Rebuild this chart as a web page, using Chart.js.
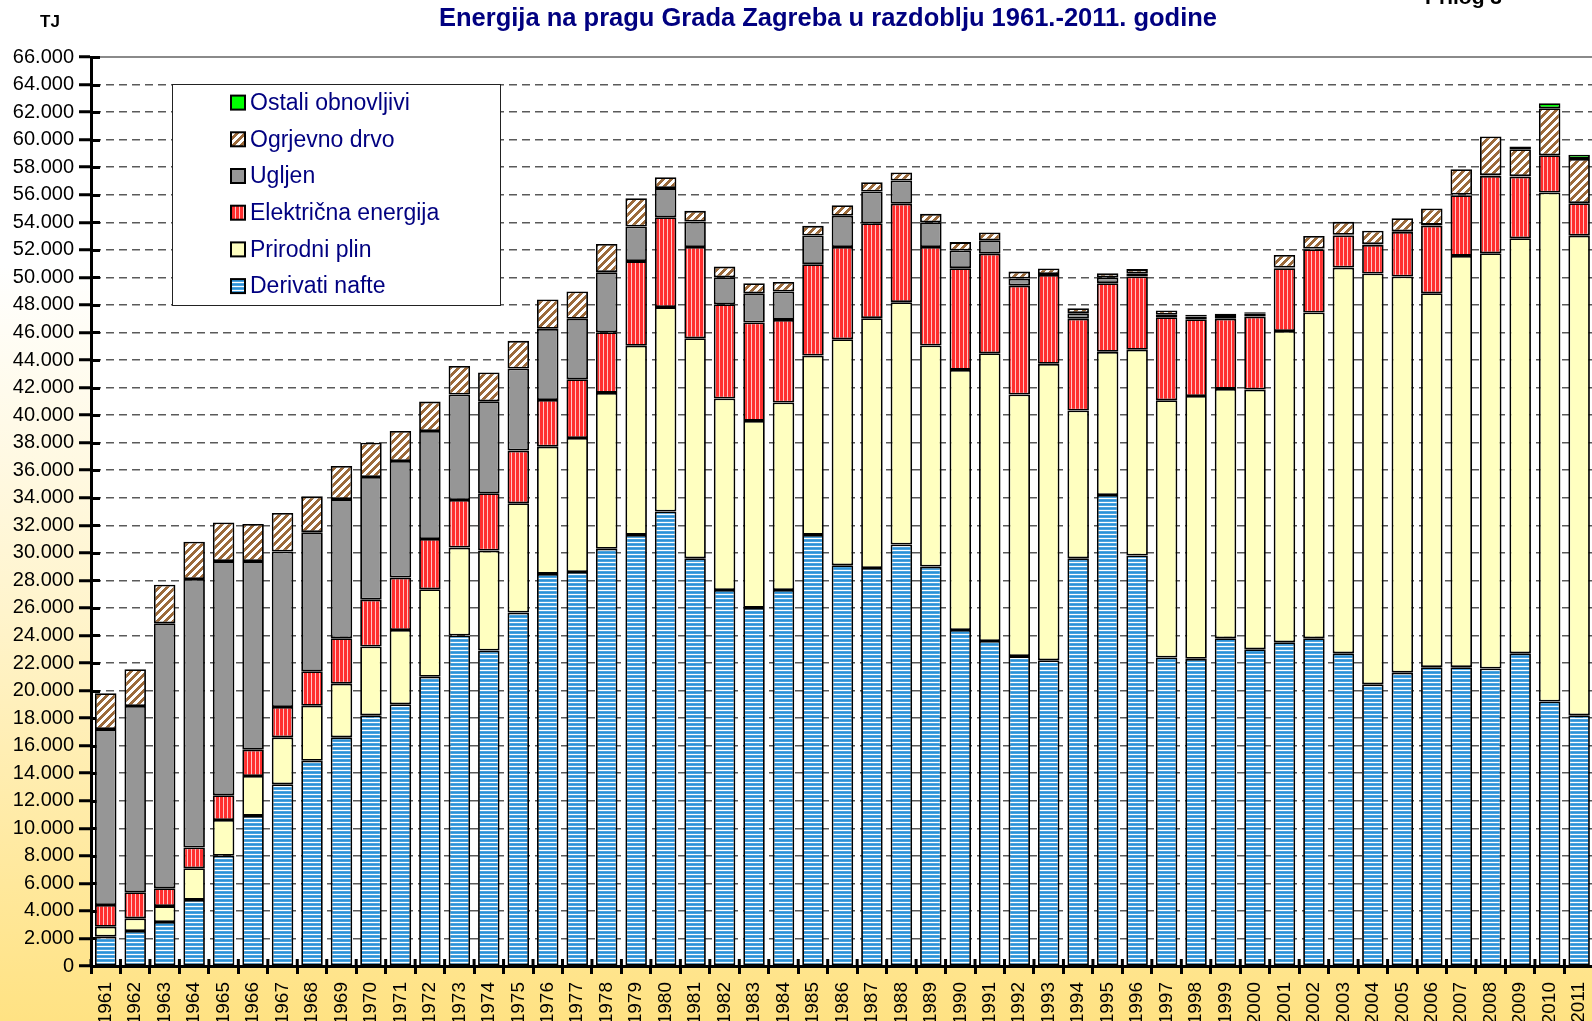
<!DOCTYPE html>
<html>
<head>
<meta charset="utf-8">
<script src="https://cdn.jsdelivr.net/npm/chart.js@4.4.1/dist/chart.umd.min.js"></script>
<style>
  html, body { margin: 0; padding: 0; overflow: hidden; width: 1592px; height: 1021px; }
  body { background: linear-gradient(to bottom, #ffffff 0%, #ffffff 26%, #fff4cc 60%, #ffe283 100%); }
  #wrap { position: absolute; left: 0; top: 0; width: 1610px; height: 1021px; }
</style>
</head>
<body>
<div id="wrap"><canvas id="c" width="1610" height="1021"></canvas></div>
<script>
const chartTitle = 'Energija na pragu Grada Zagreba u razdoblju 1961.-2011. godine';
const unitLabel = 'TJ';
const annexLabel = 'Prilog 3';

const years = ['1961','1962','1963','1964','1965','1966','1967','1968','1969','1970',
  '1971','1972','1973','1974','1975','1976','1977','1978','1979','1980',
  '1981','1982','1983','1984','1985','1986','1987','1988','1989','1990',
  '1991','1992','1993','1994','1995','1996','1997','1998','1999','2000',
  '2001','2002','2003','2004','2005','2006','2007','2008','2009','2010','2011'];

const seriesNames = ['Derivati nafte','Prirodni plin','Električna energija','Ugljen','Ogrjevno drvo','Ostali obnovljivi'];

const derivatiNafte = [2130,2540,3200,4800,8000,10900,13200,14900,16600,18200,
  19000,21000,24000,22900,25660,28470,28610,30300,31300,33000,
  29600,27300,26000,27300,31300,29100,28900,30600,29000,24400,
  23600,22500,22200,29600,34200,29800,22400,22300,23800,23000,
  23500,23800,22700,20450,21300,21700,21700,21600,22700,19200,18200];

const prirodniPlin = [720,920,1150,2300,2600,2900,3400,4000,3900,5000,
  5400,6360,6380,7260,7940,9240,9730,11310,13730,14840,
  15980,13900,13580,13610,13020,16410,18140,17600,16050,18880,
  20890,18990,21520,10730,10390,14940,18680,19090,18100,18850,
  22610,23650,28010,29830,28760,27150,29860,30150,30140,36960,34830];

const elektricnaEnergija = [1580,1890,1290,1500,1800,1900,2200,2500,3300,3400,
  3800,3640,3460,4170,3820,3390,4260,4410,6150,6530,
  6630,6850,7140,6000,6640,6700,6890,7140,7160,7390,
  7220,7910,6460,6660,4990,5320,6020,5570,5090,5300,
  4560,4600,2330,2080,3240,4910,4410,5620,4460,2710,2360];

const ugljen = [12770,13530,19250,19500,17000,13700,11300,10100,10100,8900,
  8470,7850,7650,6670,5960,5160,4390,4360,2510,2110,
  1840,1960,2130,2060,2080,2260,2300,1690,1790,1280,
  990,510,60,410,420,240,180,200,200,200,
  50,50,50,50,50,50,50,50,50,null,null];

const ogrjevnoDrvo = [2600,2670,2800,2700,2800,2700,2800,2600,2400,2500,
  2180,2130,2080,2090,2010,2130,1980,2050,2060,790,
  780,770,730,700,700,770,680,580,610,610,
  560,510,410,360,300,300,310,120,160,120,
  910,910,940,970,950,1190,1830,2810,1950,3410,3210];

const ostaliObnovljivi = [null,null,null,null,null,null,null,null,null,null,
  null,null,null,null,null,null,null,null,null,null,
  null,null,null,null,null,null,null,null,null,null,
  null,null,null,null,null,null,null,null,null,null,
  null,null,null,null,null,null,null,null,200,370,300];

const yMax = 66000, yStep = 2000;

// ---------- patterns ----------
function makePattern(w, h, painter) {
  const c = document.createElement('canvas');
  c.width = w; c.height = h;
  const g = c.getContext('2d');
  painter(g, w, h);
  return document.getElementById('c').getContext('2d').createPattern(c, 'repeat');
}
const patNafta = makePattern(4, 4, (g) => {
  const rows = ['#2b90d6', '#4aa3df', '#ffffff', '#4aa3df'];
  rows.forEach((col, i) => { g.fillStyle = col; g.fillRect(0, i, 4, 1); });
});
const patStruja = makePattern(4, 4, (g) => {
  const cols = ['#ff2e2e', '#ff2e2e', '#ff2e2e', '#ffc4c4'];
  cols.forEach((col, i) => { g.fillStyle = col; g.fillRect(i, 0, 1, 4); });
});
const patDrvo = makePattern(8, 8, (g) => {
  for (let x = 0; x < 8; x++) for (let y = 0; y < 8; y++) {
    g.fillStyle = ((x + y) % 8) < 4 ? '#9c6a3a' : '#ffffff';
    g.fillRect(x, y, 1, 1);
  }
});
const fills = [patNafta, '#ffffc0', patStruja, '#969696', patDrvo, '#00ff00'];
const seriesData = [derivatiNafte, prirodniPlin, elektricnaEnergija, ugljen, ogrjevnoDrvo, ostaliObnovljivi];

const FONT = "'Liberation Sans', Arial, Helvetica, sans-serif";
Chart.defaults.font.family = FONT;
Chart.defaults.color = '#000';

function fmt(v) { return String(v).replace(/\B(?=(\d{3})+(?!\d))/g, '.'); }

const decor = {
  id: 'decor',
  beforeDraw(chart) {
    const { ctx, chartArea: a } = chart;
    ctx.save();
    ctx.fillStyle = '#ffffff';
    ctx.fillRect(a.left, a.top, a.right - a.left, a.bottom - a.top);
    ctx.restore();
  },
  beforeDatasetsDraw(chart) {
    const { ctx, chartArea: a, scales: { x, y } } = chart;
    ctx.save();
    ctx.strokeStyle = '#8a8a8a'; ctx.lineWidth = 2;
    ctx.beginPath(); ctx.moveTo(a.left, a.top); ctx.lineTo(a.right, a.top); ctx.stroke();
    ctx.strokeStyle = '#000'; ctx.lineWidth = 3;
    y.ticks.forEach(t => {
      const py = Math.round(y.getPixelForValue(t.value)) + 0.5;
      ctx.beginPath(); ctx.moveTo(a.left, py); ctx.lineTo(a.left + 9, py); ctx.stroke();
    });
    const half = (x.getPixelForValue(1) - x.getPixelForValue(0)) / 2;
    for (let i = 0; i <= years.length; i++) {
      const px = x.getPixelForValue(i) - half;
      ctx.beginPath(); ctx.moveTo(px, a.bottom); ctx.lineTo(px, a.bottom - 7); ctx.stroke();
    }
    ctx.restore();
  },
  afterDatasetsDraw(chart) {
    const { ctx } = chart;
    const bx = 172, by = 84, bw = 328, bh = 221;
    ctx.save();
    ctx.fillStyle = '#ffffff';
    ctx.fillRect(bx, by, bw, bh);
    ctx.strokeStyle = '#222'; ctx.lineWidth = 1;
    ctx.strokeRect(bx + 0.5, by + 0.5, bw, bh);
    const ds = chart.data.datasets;
    ctx.font = '23px ' + FONT;
    ctx.textBaseline = 'middle';
    ctx.textAlign = 'left';
    for (let k = 0; k < ds.length; k++) {
      const d = ds[ds.length - 1 - k];
      const cy = 102.6 + k * 36.7;
      ctx.fillStyle = d.backgroundColor;
      ctx.fillRect(231, cy - 7, 14, 14);
      ctx.strokeStyle = '#000'; ctx.lineWidth = 2;
      ctx.strokeRect(231, cy - 7, 14, 14);
      ctx.fillStyle = '#000080';
      ctx.fillText(d.label, 250, cy + 1);
    }
    ctx.restore();
  },
  afterDraw(chart) {
    const { ctx } = chart;
    ctx.save();
    ctx.fillStyle = '#000080';
    ctx.font = 'bold 25.5px ' + FONT;
    ctx.textAlign = 'center'; ctx.textBaseline = 'middle';
    ctx.fillText(chartTitle, 828, 19);
    ctx.fillStyle = '#000';
    ctx.font = 'bold 17px ' + FONT;
    ctx.fillText(unitLabel, 50, 22);
    ctx.font = 'bold 21px ' + FONT;
    ctx.textAlign = 'left'; ctx.textBaseline = 'alphabetic';
    ctx.fillText(annexLabel, 1425, 4);
    ctx.restore();
  }
};

new Chart(document.getElementById('c'), {
  type: 'bar',
  data: {
    labels: years,
    datasets: seriesNames.map((name, i) => ({
      label: name,
      data: seriesData[i],
      backgroundColor: fills[i],
      borderColor: '#000',
      borderWidth: 1.8,
      borderSkipped: false,
      barPercentage: 0.73,
      categoryPercentage: 1.0
    }))
  },
  options: {
    responsive: false,
    animation: false,
    layout: { padding: { top: 57, right: 7, bottom: 0, left: 0 } },
    plugins: { legend: { display: false }, tooltip: { enabled: false }, title: { display: false } },
    scales: {
      x: {
        stacked: true,
        ticks: { color: '#000', font: { size: 19 }, minRotation: 90, maxRotation: 90, autoSkip: false, padding: 8 },
        grid: { display: true, drawOnChartArea: false, offset: true, tickColor: '#000', tickWidth: 3, tickLength: 8 },
        border: { display: true, color: '#000', width: 3 },
        afterFit: s => { s.height = 55; }
      },
      y: {
        stacked: true,
        min: 0, max: yMax,
        ticks: { stepSize: yStep, autoSkip: false, color: '#000', font: { size: 20 }, padding: 5, callback: v => fmt(v) },
        grid: {
          color: c => (c.tick && (c.tick.value === 0 || c.tick.value === yMax)) ? 'rgba(0,0,0,0)' : '#5a5a5a',
          lineWidth: 1.5, tickColor: '#000', tickWidth: 3, tickLength: 12
        },
        border: { display: true, color: '#000', width: 3, dash: [8, 5] },
        afterFit: s => { s.width = 91; }
      }
    }
  },
  plugins: [decor]
});
</script>
</body>
</html>
